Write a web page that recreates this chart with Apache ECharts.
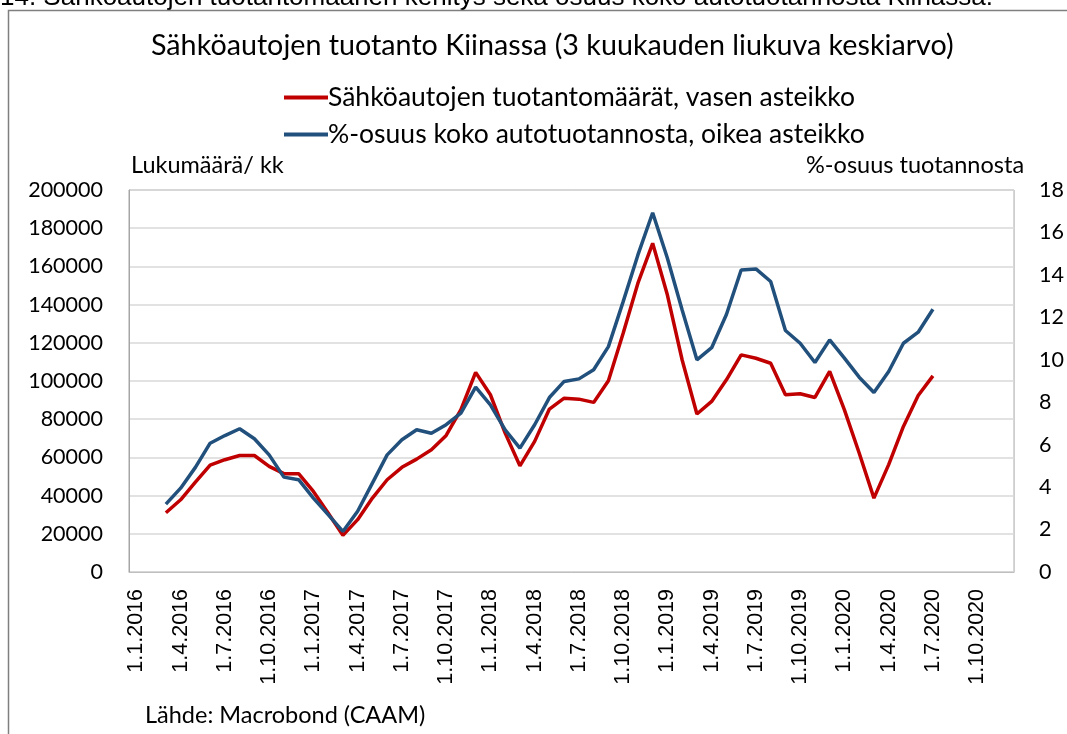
<!DOCTYPE html>
<html>
<head>
<meta charset="utf-8">
<script src="https://cdn.jsdelivr.net/npm/echarts@6/dist/echarts.min.js"></script>
<style>
  html, body { margin: 0; padding: 0; background: #fff; }
  #chart { width: 1067px; height: 734px; }
</style>
</head>
<body>
<div id="chart"></div>
<script>
// 3 month moving average, monthly from 1.1.2016 to 1.12.2020
var years = [2016, 2017, 2018, 2019, 2020];
var quarterLabels = ['1.1.', '1.4.', '1.7.', '1.10.'];

// electric car production, units per month (left axis)
var evCount = [
    null, null, 31000, 37800, 47000, 56000, 58800, 61000, 61000, 55300, 51500, 51500,
    42200, 30900, 19200, 27400, 38700, 48300, 54800, 59100, 64000, 71500, 85000, 104500,
    92800, 72700, 55600, 68400, 85300, 91000, 90500, 88800, 100100, 125000, 151200, 172100,
    145000, 111000, 82700, 89300, 100600, 113700, 111900, 109300, 92800, 93300, 91400, 105000,
    84900, 62300, 38700, 56200, 76200, 92400, 102700, null, null, null, null, null
];

// share of total car production, % (right axis)
var evShare = [
    null, null, 3.20, 3.95, 4.93, 6.07, 6.43, 6.75, 6.28, 5.52, 4.47, 4.35,
    3.48, 2.70, 1.91, 2.86, 4.19, 5.52, 6.23, 6.70, 6.54, 6.94, 7.49, 8.71,
    7.88, 6.70, 5.84, 6.94, 8.22, 8.98, 9.10, 9.53, 10.62, 12.74, 14.94, 16.93,
    14.78, 12.35, 10.00, 10.57, 12.13, 14.23, 14.28, 13.69, 11.38, 10.78, 9.87, 10.94,
    10.08, 9.18, 8.46, 9.45, 10.78, 11.30, 12.38, null, null, null, null, null
];

var months = [];
years.forEach(function (y) {
    for (var m = 1; m <= 12; m++) {
        months.push('1.' + m + '.' + y);
    }
});

var font = 'Lato, "Open Sans", sans-serif';
var chart = echarts.init(document.getElementById('chart'));

chart.setOption({
    animation: false,
    textStyle: { fontFamily: font, color: '#000' },
    title: {
        text: 'Sähköautojen tuotanto Kiinassa (3 kuukauden liukuva keskiarvo)',
        left: 146,
        top: 26,
        textStyle: { fontFamily: font, fontSize: 28.7, fontWeight: 'normal', color: '#000' }
    },
    legend: {
        orient: 'vertical',
        left: 279,
        top: 79,
        icon: 'rect',
        itemWidth: 44,
        itemHeight: 4,
        itemGap: 10,
        textStyle: { fontFamily: font, fontSize: 26.5, color: '#000', padding: [0, 0, 0, -5] },
        data: ['Sähköautojen tuotantomäärät, vasen asteikko', '%-osuus koko autotuotannosta, oikea asteikko']
    },
    grid: {
        left: 129,
        right: 48,
        top: 190,
        bottom: 162,
        show: true,
        borderColor: '#a6a6a6',
        borderWidth: 1
    },
    xAxis: {
        type: 'category',
        data: months,
        boundaryGap: true,
        axisLine: { lineStyle: { color: '#bfbfbf' } },
        axisTick: { interval: 2, length: 6, lineStyle: { color: '#bfbfbf' } },
        axisLabel: {
            interval: 2,
            rotate: 90,
            margin: 17,
            fontFamily: '"Liberation Sans", Arial, sans-serif',
            fontSize: 21.5,
            color: '#000',
            formatter: function (v) {
                var p = v.split('.');
                return quarterLabels[(+p[1] - 1) / 3] + p[2];
            }
        }
    },
    yAxis: [{
        type: 'value',
        min: 0,
        max: 200000,
        interval: 20000,
        name: 'Lukumäärä/ kk',
        nameLocation: 'end',
        nameGap: 13,
        nameTextStyle: { fontFamily: font, fontSize: 23.5, color: '#000', align: 'left', padding: [0, 0, 0, 2] },
        axisLine: { show: true, lineStyle: { color: '#a6a6a6' } },
        axisTick: { show: false },
        axisLabel: {
            fontFamily: font, fontSize: 21.5, color: '#000', margin: 26,
            formatter: function (v) { return String(v); }
        },
        splitLine: { lineStyle: { color: '#d9d9d9', width: 1.5 } }
    }, {
        type: 'value',
        min: 0,
        max: 18,
        interval: 2,
        position: 'right',
        name: '%-osuus tuotannosta',
        nameLocation: 'end',
        nameGap: 13,
        nameTextStyle: { fontFamily: font, fontSize: 23.5, color: '#000', align: 'right', padding: [0, -10, 0, 0] },
        axisLine: { show: false },
        axisTick: { show: false },
        axisLabel: { fontFamily: font, fontSize: 21.5, color: '#000', margin: 25, align: 'left' },
        splitLine: { show: false }
    }],
    graphic: [{
        type: 'text',
        left: 0,
        top: -15,
        style: {
            text: '14. Sähköautojen tuotantomäärien kehitys sekä osuus koko autotuotannosta Kiinassa.',
            font: '26px "Liberation Sans", Arial, sans-serif',
            fill: '#000'
        }
    }, {
        type: 'polyline',
        shape: { points: [[8.5, 734], [8.5, 10.5], [1067, 10.5]] },
        style: { stroke: '#7f7f7f', lineWidth: 1.5, fill: null }
    }, {
        type: 'text',
        left: 145,
        top: 703,
        style: {
            text: 'Lähde: Macrobond (CAAM)',
            font: '23.5px ' + font,
            fill: '#000'
        }
    }],
    series: [{
        name: 'Sähköautojen tuotantomäärät, vasen asteikko',
        type: 'line',
        yAxisIndex: 0,
        data: evCount,
        symbol: 'none',
        color: '#c00000',
        lineStyle: { color: '#c00000', width: 3.5 }
    }, {
        name: '%-osuus koko autotuotannosta, oikea asteikko',
        type: 'line',
        yAxisIndex: 1,
        data: evShare,
        symbol: 'none',
        color: '#22507c',
        lineStyle: { color: '#22507c', width: 3.5 }
    }]
});
</script>
</body>
</html>
